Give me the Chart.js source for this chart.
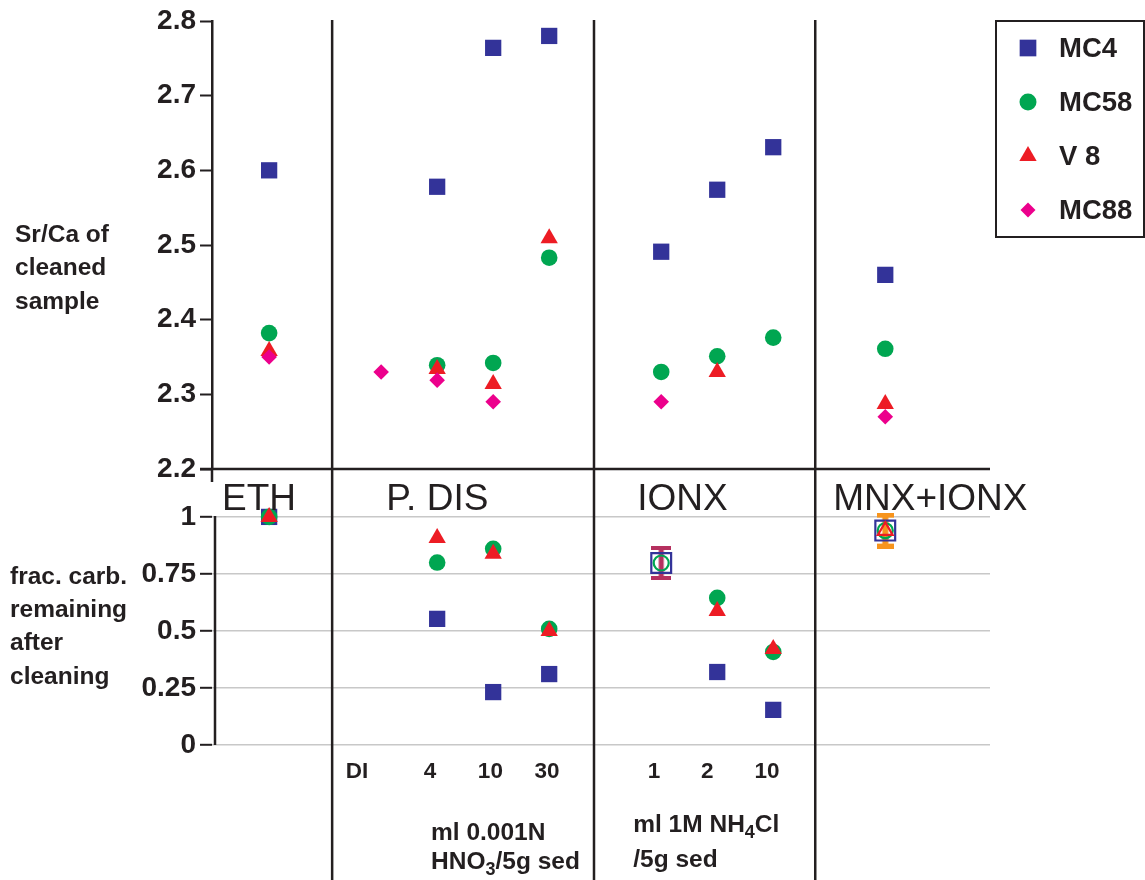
<!DOCTYPE html>
<html>
<head>
<meta charset="utf-8">
<script src="https://cdn.jsdelivr.net/npm/chart.js@4.4.0/dist/chart.umd.min.js"></script>
<style>
  html, body { margin: 0; padding: 0; background: #fff; }
  canvas { display: block; }
</style>
</head>
<body>
<canvas id="chart" width="1145" height="880"></canvas>
<script>
// x categories: ETH | P. DIS (DI, 4, 10, 30) | IONX (1, 2, 10) | MNX+IONX
const categories = ['ETH', 'DI', '4', '10', '30', '1', '2', '10', 'MNX+IONX'];
const catPos = [0, 2, 3, 4, 5, 7, 8, 9, 11];

const seriesNames = ['MC4', 'MC58', 'V 8', 'MC88'];

// Sr/Ca of cleaned sample (top panel)
const srcaMC4  = [2.600, null, 2.578, 2.764, 2.780, 2.491, 2.574, 2.631, 2.460];
const srcaMC58 = [2.382, null, 2.339, 2.342, 2.483, 2.330, 2.351, 2.376, 2.361];
const srcaV8   = [2.358, null, 2.334, 2.314, 2.509, null, 2.330, null, 2.287];
const srcaMC88 = [2.350, 2.330, 2.319, 2.290, null, 2.290, null, null, 2.270];

// frac. carb. remaining after cleaning (bottom panel)
const fracMC4  = [1.00, null, 0.553, 0.232, 0.311, 0.798, 0.320, 0.154, 0.94];
const fracMC58 = [1.00, null, 0.800, 0.860, 0.509, 0.798, 0.645, 0.408, 0.94];
const fracV8   = [1.00, null, 0.908, 0.838, 0.500, null, 0.588, 0.421, 0.94];
const fracMC88 = [null, null, null, null, null, 0.798, null, null, 0.94];

// tick labels along the bottom and where they sit
const xTickLabels = ['DI', '4', '10', '30', '1', '2', '10'];
const xTickPos = [1.57, 2.87, 3.95, 4.96, 6.87, 7.82, 8.89];
const groupNames = ['ETH', 'P. DIS', 'IONX', 'MNX+IONX'];
const groupPos = [-0.84, 2.09, 6.57, 10.07];
const dividers = [1.125, 5.8, 9.75];

const ink = '#231f20';
const colors = ['#333399', '#00a651', '#ed1c24', '#ec008c'];
const shapes = ['rect', 'circle', 'triangle', 'rectRot'];
const radii = [11.5, 8.3, 10, 7.8];
const hollowRadii = [14, 7.5, 8.5];
const hollowIdx = [5, 8];
const FONT = '"Liberation Sans", Arial, Helvetica, sans-serif';

Chart.defaults.font.family = FONT;
Chart.defaults.color = ink;

function pts(values) {
  return values.map((v, i) => ({ x: catPos[i], y: v }));
}

function makeBar(color, capW, h, barW, capH) {
  const c = document.createElement('canvas');
  c.width = capW;
  c.height = h;
  const g = c.getContext('2d');
  g.fillStyle = color;
  g.fillRect((capW - barW) / 2, 0, barW, h);
  g.fillRect(0, 0, capW, capH);
  g.fillRect(0, h - capH, capW, capH);
  return c;
}
const barIonx = makeBar('#b5305f', 20, 34, 5, 4);
const barMnx = makeBar('#f7941d', 17, 36, 6, 5);

const topSets = [srcaMC4, srcaMC58, srcaV8, srcaMC88].map((vals, i) => ({
  label: seriesNames[i],
  data: pts(vals),
  yAxisID: 'y',
  order: 4 - i,
  pointStyle: shapes[i],
  pointRadius: radii[i],
  pointBackgroundColor: colors[i],
  pointBorderWidth: 0
}));

const bottomSets = [fracMC4, fracMC58, fracV8].map((vals, i) => ({
  label: seriesNames[i],
  data: pts(vals),
  yAxisID: 'y2',
  order: 4 - i,
  pointStyle: shapes[i],
  pointRadius: c => hollowIdx.includes(c.dataIndex) ? hollowRadii[i] : radii[i],
  pointBackgroundColor: c => hollowIdx.includes(c.dataIndex) ? 'rgba(0,0,0,0)' : colors[i],
  pointBorderColor: colors[i],
  pointBorderWidth: c => hollowIdx.includes(c.dataIndex) ? 2.2 : 0
}));

bottomSets.push({
  label: seriesNames[3],
  data: pts(fracMC88),
  yAxisID: 'y2',
  order: 6,
  pointStyle: c => c.dataIndex === 5 ? barIonx : barMnx,
  pointRadius: 10
});

const decor = {
  id: 'decor',
  beforeDatasetsDraw(chart) {
    const ctx = chart.ctx;
    const { x, y, y2 } = chart.scales;
    const area = chart.chartArea;
    ctx.save();
    ctx.strokeStyle = ink;
    ctx.lineWidth = 2.5;
    ctx.beginPath();
    dividers.forEach(d => {
      const px = x.getPixelForValue(d);
      ctx.moveTo(px, y.top - 1);
      ctx.lineTo(px, chart.height);
    });
    const py = y.getPixelForValue(2.2);
    ctx.moveTo(area.left - 12, py);
    ctx.lineTo(area.right, py);
    ctx.moveTo(area.left, py);
    ctx.lineTo(area.left, py + 13);
    const ax = area.left + 3;
    ctx.moveTo(ax, y2.getPixelForValue(1) - 1);
    ctx.lineTo(ax, y2.getPixelForValue(0));
    ctx.stroke();
    ctx.restore();
  },
  afterDraw(chart) {
    const ctx = chart.ctx;
    const { x, y2 } = chart.scales;
    const area = chart.chartArea;
    ctx.save();
    ctx.fillStyle = ink;

    // group names
    ctx.font = '37px ' + FONT;
    ctx.textBaseline = 'alphabetic';
    ctx.textAlign = 'left';
    const gy = y2.getPixelForValue(1) - 7;
    groupNames.forEach((g, i) => ctx.fillText(g, x.getPixelForValue(groupPos[i]), gy));

    // y titles
    ctx.font = 'bold 24.5px ' + FONT;
    ctx.textBaseline = 'middle';
    ['Sr/Ca of', 'cleaned', 'sample'].forEach((t, i) => ctx.fillText(t, 15, 235 + i * 33.5));
    ['frac. carb.', 'remaining', 'after', 'cleaning'].forEach((t, i) => ctx.fillText(t, 10, 577 + i * 33.3));

    // units under the tick labels
    ctx.textBaseline = 'alphabetic';
    const b = area.bottom;
    const sub = (parts, px, py) => {
      let cx = px;
      parts.forEach(([txt, low]) => {
        ctx.font = (low ? 'bold 18px ' : 'bold 24.5px ') + FONT;
        ctx.fillText(txt, cx, py + (low ? 6 : 0));
        cx += ctx.measureText(txt).width;
      });
    };
    const hx = x.getPixelForValue(2.89);
    sub([['ml 0.001N', false]], hx, b + 95);
    sub([['HNO', false], ['3', true], ['/5g sed', false]], hx, b + 124);
    const nx = x.getPixelForValue(6.5);
    sub([['ml 1M NH', false], ['4', true], ['Cl', false]], nx, b + 87);
    sub([['/5g sed', false]], nx, b + 122);

    // legend box
    const lw = 148, lh = 216;
    const lx = chart.width - lw - 1, ly = 21;
    ctx.lineWidth = 2;
    ctx.strokeStyle = ink;
    ctx.strokeRect(lx, ly, lw, lh);
    const legendR = [11.8, 8.5, 10, 7.5];
    seriesNames.forEach((name, i) => {
      const cy = ly + 27 + i * 54;
      ctx.fillStyle = colors[i];
      Chart.helpers.drawPoint(ctx, { pointStyle: shapes[i], radius: legendR[i], borderWidth: 0, rotation: 0 }, lx + 32, cy);
      ctx.fillStyle = ink;
      ctx.font = 'bold 27.5px ' + FONT;
      ctx.textBaseline = 'middle';
      ctx.fillText(name, lx + 63, cy + 1);
    });
    ctx.restore();
  }
};

new Chart(document.getElementById('chart'), {
  type: 'scatter',
  data: { datasets: topSets.concat(bottomSets) },
  options: {
    responsive: false,
    animation: false,
    layout: { padding: { top: 21, right: 155, left: 0, bottom: 0 } },
    plugins: { legend: { display: false }, tooltip: { enabled: false } },
    scales: {
      x: {
        type: 'linear',
        min: -1.02,
        max: 12.87,
        grid: { display: false },
        border: { display: false },
        afterBuildTicks: s => { s.ticks = xTickPos.map(v => ({ value: v })); },
        afterFit: s => { s.height = 135; },
        ticks: {
          autoSkip: false,
          maxRotation: 0,
          padding: 5,
          color: ink,
          font: { size: 22.5, weight: 'bold' },
          callback: (v, i) => xTickLabels[i]
        }
      },
      y: {
        type: 'linear',
        position: 'left',
        stack: 'panels',
        stackWeight: 448,
        weight: 2,
        min: 2.2,
        max: 2.8,
        afterFit: s => { s.width = 212; },
        border: { color: ink, width: 2.5 },
        grid: { drawOnChartArea: false, tickLength: 12, tickColor: ink, tickWidth: 2 },
        ticks: {
          stepSize: 0.1,
          padding: 4,
          color: ink,
          font: { size: 28, weight: 'bold' },
          callback: v => Number(v).toFixed(1)
        }
      },
      y2: {
        type: 'linear',
        position: 'left',
        stack: 'panels',
        stackWeight: 276,
        weight: 1,
        min: 0,
        max: 1.21,
        afterFit: s => { s.width = 212; },
        afterBuildTicks: s => { s.ticks = s.ticks.filter(t => t.value <= 1.0001); },
        border: { display: false },
        grid: { color: '#c8c8c8', lineWidth: 1.6, tickLength: 12, tickColor: ink, tickWidth: 2 },
        ticks: {
          stepSize: 0.25,
          padding: 4,
          color: ink,
          font: { size: 28, weight: 'bold' },
          callback: v => String(Number(Number(v).toFixed(2)))
        }
      }
    }
  },
  plugins: [decor]
});
</script>
</body>
</html>
